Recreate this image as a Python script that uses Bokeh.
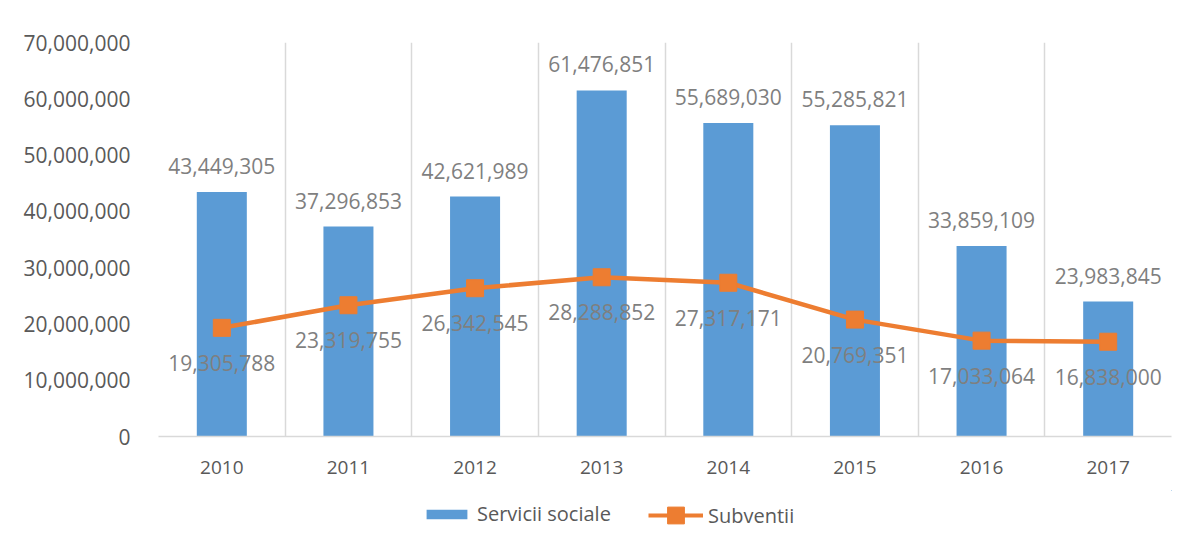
from bokeh.plotting import figure
from bokeh.layouts import column
from bokeh.models import (ColumnDataSource, FixedTicker, NumeralTickFormatter,
                          Legend, LegendItem, Range1d)
from bokeh.core.properties import value
from bokeh.embed import file_html
from bokeh.resources import INLINE

years = ["2010", "2011", "2012", "2013", "2014", "2015", "2016", "2017"]
servicii_sociale = [43449305, 37296853, 42621989, 61476851, 55689030, 55285821, 33859109, 23983845]
subventii = [19305788, 23319755, 26342545, 28288852, 27317171, 20769351, 17033064, 16838000]
y_ticks = [0, 10000000, 20000000, 30000000, 40000000, 50000000, 60000000, 70000000]
series_names = ["Servicii sociale", "Subventii"]

BLUE = "#5B9BD5"
ORANGE = "#ED7D31"
AXIS_TXT = "#595959"
LBL_TXT = "#7F7F7F"
GRID = "#D9D9D9"
FONT = "Open Sans"

xs = list(range(len(years)))
src = ColumnDataSource(dict(
    x=xs,
    bar=servicii_sociale,
    line=subventii,
    bar_lbl=[f"{v:,}" for v in servicii_sociale],
    line_lbl=[f"{v:,}" for v in subventii],
))

p = figure(width=1172, height=490, output_backend="svg", toolbar_location=None,
           x_range=Range1d(-0.5, len(years) - 0.5), y_range=Range1d(0, y_ticks[-1]),
           min_border_left=158, min_border_right=1, min_border_top=42, min_border_bottom=54)
p.outline_line_color = None
p.background_fill_color = "white"
p.border_fill_color = "white"

p.vbar(x="x", top="bar", width=0.395, bottom=0, source=src, fill_color=BLUE, line_color=None)
p.line(x="x", y="line", source=src, line_color=ORANGE, line_width=4.5)
p.scatter(x="x", y="line", source=src, marker="square", size=17, fill_color=ORANGE, line_color=ORANGE)

p.text(x="x", y="bar", text="bar_lbl", source=src, y_offset=-26, text_align="center",
       text_baseline="middle", text_font=value(FONT), text_font_size="21px", text_color=LBL_TXT)
p.text(x="x", y="line", text="line_lbl", source=src, y_offset=35, text_align="center",
       text_baseline="middle", text_font=value(FONT), text_font_size="21px", text_color=LBL_TXT)

# axes
p.xaxis.ticker = FixedTicker(ticks=xs)
p.xaxis.major_label_overrides = {i: y for i, y in enumerate(years)}
p.xaxis.major_tick_line_color = None
p.xaxis.minor_tick_line_color = None
p.xaxis.axis_line_color = GRID
p.xaxis.axis_line_width = 1.5
p.xaxis.major_label_text_font = FONT
p.xaxis.major_label_text_font_size = "19px"
p.xaxis.major_label_text_color = AXIS_TXT
p.xaxis.major_label_standoff = 18

p.yaxis.ticker = FixedTicker(ticks=y_ticks)
p.yaxis.formatter = NumeralTickFormatter(format="0,0")
p.yaxis.major_tick_line_color = None
p.yaxis.minor_tick_line_color = None
p.yaxis.axis_line_color = None
p.yaxis.major_label_text_font = FONT
p.yaxis.major_label_text_font_size = "21px"
p.yaxis.major_label_text_color = AXIS_TXT
p.yaxis.major_label_standoff = 22

p.ygrid.grid_line_color = None
p.xgrid.ticker = FixedTicker(ticks=[i - 0.5 for i in range(len(years) + 1)])
p.xgrid.grid_line_color = GRID
p.xgrid.grid_line_width = 1.5

# legend strip: same series drawn in a strip whose ranges keep them out of view,
# so only their legend swatches show
lg = figure(width=1172, height=39, output_backend="svg", toolbar_location=None,
            x_range=Range1d(-20, -19), y_range=Range1d(-2, -1),
            x_axis_location=None, y_axis_location=None,
            min_border_left=0, min_border_right=0, min_border_top=0, min_border_bottom=0)
lg.outline_line_color = None
lg.grid.grid_line_color = None
lg.border_fill_color = "white"
r_bar = lg.vbar(x="x", top="bar", width=0.395, bottom=0, source=src, fill_color=BLUE, line_color=None)
r_ln = lg.line(x="x", y="line", source=src, line_color=ORANGE, line_width=4)
r_mk = lg.scatter(x="x", y="line", source=src, marker="square", size=17,
                  fill_color=ORANGE, line_color=ORANGE)

def style(leg):
    leg.label_text_font = FONT
    leg.label_text_font_size = "20px"
    leg.label_text_color = AXIS_TXT
    leg.label_standoff = 5
    leg.border_line_color = None
    leg.background_fill_alpha = 0
    leg.padding = 0
    leg.margin = 0
    leg.orientation = "horizontal"

leg_a = Legend(items=[LegendItem(label=series_names[0], renderers=[r_bar], index=0)], location=(263, 2))
style(leg_a)
leg_a.glyph_width = 51
leg_a.glyph_height = 12
leg_b = Legend(items=[LegendItem(label=series_names[1], renderers=[r_ln, r_mk], index=0)], location=(490, -7))
style(leg_b)
leg_b.glyph_width = 55
leg_b.glyph_height = 42
lg.add_layout(leg_a)
lg.add_layout(leg_b)

layout = column(p, lg, spacing=0)
open("out.html", "w").write(file_html(layout, INLINE))
